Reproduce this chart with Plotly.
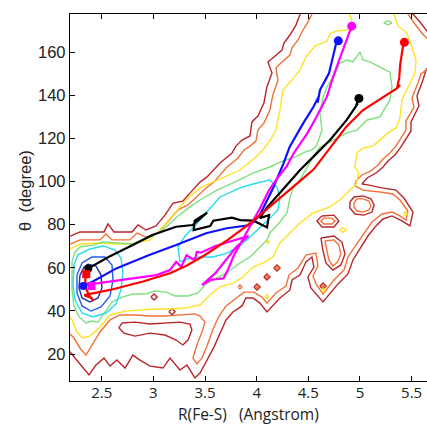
import plotly.graph_objects as go

# ---------------- axes ----------------
x_range = [2.1925, 5.649]
y_range = [7.49, 177.63]
x_ticks = [2.5, 3, 3.5, 4, 4.5, 5, 5.5]
x_ticklabels = ["2.5", "3", "3.5", "4", "4.5", "5", "5.5"]
y_ticks = [20, 40, 60, 80, 100, 120, 140, 160]
x_title = "R(Fe-S)   (Angstrom)"
y_title = "\u03b8  (degree)"

# ---------------- contour level 1 (dark red) ----------------
lv1_upper = [(2.154,73.8),(2.193,74.7),(2.289,76.6),(2.522,76.6),(2.560,80.3),(2.618,76.6),(2.793,76.6),(2.851,79.8),(2.928,77.5),(3.025,79.4),(3.112,84.4),(3.190,90.0),(3.286,90.9),(3.354,94.6),(3.451,99.7),(3.519,102.1),(3.645,108.6),(3.761,113.2),(3.799,116.4),(3.858,119.2),(3.935,121.1),(3.954,127.6),(4.012,130.3),(4.070,136.4),(4.099,143.8),(4.148,150.3),(4.109,155.4),(4.167,157.7),(4.245,160.9),(4.264,164.2),(4.322,167.9),(4.380,172.5),(4.419,177.6),(4.458,182.3)]
lv1_topright = [(5.484,182.3),(5.513,177.6),(5.581,173.9),(5.639,170.2),(5.716,165.6)]
lv1_right = [(5.716,156.3),(5.639,151.7),(5.610,147.0),(5.581,143.3),(5.552,139.6),(5.571,135.0),(5.523,130.8),(5.494,127.6),(5.494,123.4),(5.445,119.7),(5.397,116.0),(5.339,112.3),(5.271,109.5),(5.223,106.7),(5.155,103.9),(5.068,101.6),(5.019,98.8),(5.077,98.4),(5.213,97.0),(5.348,96.0),(5.426,92.3),(5.513,85.8),(5.484,79.4),(5.406,81.7),(5.310,84.0),(5.223,82.6),(5.155,79.4),(5.077,74.7),(5.000,69.1),(4.932,63.6),(4.884,57.1),(4.787,52.5),(4.642,44.1),(4.525,50.6),(4.496,55.7),(4.554,60.3),(4.535,65.0),(4.477,62.7),(4.419,56.6),(4.342,54.3),(4.322,49.7),(4.225,46.0),(4.099,39.5),(4.032,43.6),(3.964,46.0),(3.896,46.0),(3.858,42.3),(3.770,39.5),(3.703,35.8),(3.645,29.7),(3.586,23.2),(3.519,17.2),(3.451,11.2),(3.402,8.9),(3.325,14.9),(3.257,12.6),(3.161,18.1),(3.093,13.5),(2.967,14.4),(2.870,17.2),(2.802,19.5),(2.725,13.5),(2.647,17.2),(2.580,14.4),(2.522,18.1),(2.444,14.9),(2.376,10.3),(2.289,15.4),(2.193,20.9),(2.154,23.7)]
lv1_hole_low = [(2.696,34.4),(2.822,34.8),(2.967,33.9),(3.112,34.4),(3.257,34.8),(3.354,33.9),(3.373,31.1),(3.335,26.5),(3.286,24.2),(3.219,26.5),(3.112,28.8),(2.967,29.7),(2.822,28.3),(2.715,29.7),(2.667,32.1),(2.696,34.4)]
lv1_hole_a = [(4.903,90.5),(4.942,92.8),(5.029,93.3),(5.106,91.9),(5.136,89.1),(5.116,85.8),(5.039,84.4),(4.951,84.9),(4.903,87.7),(4.903,90.5)]
lv1_loop_b = [(4.622,73.8),(4.748,74.7),(4.825,71.9),(4.855,66.4),(4.815,61.3),(4.738,58.9),(4.670,62.2),(4.641,68.2),(4.622,73.8)]
lv1_hex_c = [(4.632,84.0),(4.748,84.4),(4.796,81.7),(4.748,78.9),(4.632,78.9),(4.583,81.7),(4.632,84.0)]
lv1_isl_1 = [(4.166,59.9),(4.196,61.3),(4.226,59.9),(4.196,58.5),(4.166,59.9)]
lv1_isl_2 = [(4.069,55.7),(4.099,57.1),(4.129,55.7),(4.099,54.3),(4.069,55.7)]
lv1_isl_3 = [(3.973,51.1),(4.003,52.5),(4.033,51.1),(4.003,49.7),(3.973,51.1)]
lv1_isl_4 = [(4.612,51.5),(4.642,52.9),(4.672,51.5),(4.642,50.1),(4.612,51.5)]
lv1_isl_5 = [(2.976,46.4),(3.006,47.8),(3.036,46.4),(3.006,45.0),(2.976,46.4)]
lv1_isl_6 = [(3.150,39.6),(3.180,41.0),(3.210,39.6),(3.180,38.2),(3.150,39.6)]

# ---------------- contour level 2 (orange) ----------------
lv2_upper = [(2.154,70.1),(2.193,71.0),(2.289,72.9),(2.483,72.9),(2.541,75.6),(2.599,72.9),(2.773,72.9),(2.841,76.1),(2.928,74.2),(3.044,76.1),(3.141,81.2),(3.238,86.8),(3.335,89.1),(3.412,92.8),(3.499,96.5),(3.586,99.7),(3.703,106.2),(3.819,110.9),(3.877,114.6),(3.935,116.4),(3.993,118.7),(4.012,123.8),(4.070,127.1),(4.128,133.1),(4.157,140.1),(4.206,147.0),(4.186,152.6),(4.245,155.4),(4.322,158.6),(4.342,161.9),(4.400,165.6),(4.448,170.2),(4.496,173.9),(4.535,177.6),(4.574,182.3)]
lv2_topright = [(5.435,182.3),(5.464,177.6),(5.532,173.0),(5.590,169.3),(5.716,162.8)]
lv2_right = [(5.716,154.4),(5.590,149.8),(5.561,145.6),(5.532,141.9),(5.503,138.7),(5.523,134.5),(5.474,130.8),(5.445,128.0),(5.445,123.8),(5.397,120.1),(5.348,116.4),(5.290,113.2),(5.223,110.4),(5.174,107.6),(5.106,104.9),(5.019,103.0),(4.961,100.2),(4.951,97.9),(5.029,96.0),(5.194,95.1),(5.319,94.2),(5.387,91.4),(5.464,86.3),(5.445,82.1),(5.387,84.0),(5.310,85.8),(5.213,84.9),(5.116,81.2),(5.039,76.1),(4.961,70.5),(4.884,65.0),(4.845,58.9),(4.748,54.3),(4.642,47.8),(4.574,52.5),(4.545,56.2),(4.593,60.8),(4.574,66.8),(4.477,65.9),(4.400,59.9),(4.313,56.6),(4.283,51.5),(4.186,48.3),(4.099,43.6),(4.051,46.4),(3.974,48.7),(3.877,48.7),(3.799,46.0),(3.703,42.3),(3.625,36.7),(3.567,30.2),(3.519,23.7),(3.470,18.1),(3.421,15.4),(3.383,18.1),(3.421,24.2),(3.470,30.2),(3.499,34.8),(3.451,37.6),(3.402,38.6),(3.257,38.1),(3.112,37.6),(2.967,37.6),(2.822,38.1),(2.676,38.1),(2.580,35.8),(2.483,30.2),(2.405,24.2),(2.347,19.5),(2.289,22.8),(2.231,27.4),(2.154,31.1)]
lv2_hole_a = [(4.942,90.0),(4.971,91.9),(5.029,91.9),(5.087,90.9),(5.106,88.6),(5.087,86.8),(5.029,85.8),(4.971,86.3),(4.942,88.2),(4.942,90.0)]
lv2_loop_b = [(4.660,72.4),(4.748,72.9),(4.796,70.5),(4.815,66.4),(4.786,62.7),(4.738,60.8),(4.699,63.6),(4.680,68.2),(4.660,72.4)]
lv2_hex_c = [(4.651,83.0),(4.729,83.0),(4.758,81.7),(4.729,80.3),(4.651,80.3),(4.622,81.7),(4.651,83.0)]
lv2_isl_1 = [(4.181,59.9),(4.196,60.6),(4.211,59.9),(4.196,59.2),(4.181,59.9)]
lv2_isl_2 = [(4.084,55.7),(4.099,56.4),(4.114,55.7),(4.099,55.0),(4.084,55.7)]
lv2_isl_3 = [(3.988,51.1),(4.003,51.8),(4.018,51.1),(4.003,50.4),(3.988,51.1)]
lv2_isl_4 = [(4.627,51.5),(4.642,52.2),(4.657,51.5),(4.642,50.8),(4.627,51.5)]
lv2_tiny = [(3.82,51.1),(3.838,52.0),(3.856,51.1),(3.838,50.2),(3.82,51.1)]

# ---------------- contour level 3 (yellow) ----------------
lv3_upper = [(2.154,67.8),(2.193,68.7),(2.289,71.0),(2.483,71.5),(2.628,71.0),(2.773,71.0),(2.967,72.9),(3.064,77.5),(3.209,85.8),(3.325,91.9),(3.451,97.0),(3.645,101.1),(3.838,105.3),(3.983,110.9),(4.061,114.6),(4.128,118.8),(4.186,123.8),(4.225,133.1),(4.254,142.4),(4.342,147.0),(4.419,151.7),(4.477,157.7),(4.564,162.8),(4.680,165.1),(4.709,168.4),(4.767,169.7),(4.874,170.2),(4.922,173.5),(4.903,177.6),(4.903,182.3)]
lv3_right = [(5.310,182.3),(5.329,177.6),(5.368,172.1),(5.455,168.8),(5.503,162.3),(5.542,156.3),(5.532,150.3),(5.484,145.6),(5.445,142.4),(5.406,137.8),(5.387,129.4),(5.348,124.8),(5.271,122.5),(5.194,119.2),(5.126,116.4),(5.029,115.5),(4.971,113.2),(4.951,106.7),(4.990,103.9),(4.961,98.4),(4.903,96.0),(4.806,91.4),(4.709,88.2),(4.545,85.4),(4.419,80.7),(4.322,76.1),(4.225,71.5),(4.157,65.0),(4.061,62.2),(3.964,60.3),(3.867,55.7),(3.770,52.9),(3.645,51.1),(3.548,47.4),(3.451,42.7),(3.306,41.3),(3.161,40.9),(3.015,40.9),(2.870,40.4),(2.725,39.9),(2.580,38.1),(2.483,32.5),(2.386,28.3),(2.309,27.4),(2.260,30.2),(2.212,35.8),(2.154,39.5)]
lv3_tiny_1 = [(4.80,77.5),(4.835,78.6),(4.87,77.5),(4.835,76.4),(4.80,77.5)]
lv3_tiny_2 = [(4.082,46.5),(4.099,47.4),(4.116,46.5),(4.099,45.6),(4.082,46.5)]
lv3_tiny_3 = [(4.625,49.5),(4.642,50.4),(4.659,49.5),(4.642,48.6),(4.625,49.5)]
lv3_tiny_4 = [(5.423,85.0),(5.44,85.9),(5.457,85.0),(5.44,84.1),(5.423,85.0)]
lv3_tiny_5 = [(4.095,71.9),(4.109,72.6),(4.123,71.9),(4.109,71.2),(4.095,71.9)]

# ---------------- contour level 4 (green) ----------------
lv4_main = [(2.212,62.7),(2.241,67.3),(2.289,69.6),(2.415,70.5),(2.512,71.9),(2.667,71.5),(2.802,71.0),(2.899,72.9),(2.996,74.7),(3.112,78.4),(3.238,84.0),(3.354,88.2),(3.451,91.4),(3.616,96.0),(3.770,99.3),(3.964,103.9),(4.128,106.7),(4.254,109.5),(4.371,111.3),(4.467,113.6),(4.535,114.6),(4.583,116.9),(4.632,123.8),(4.613,131.7),(4.642,139.1),(4.680,143.8),(4.738,148.4),(4.806,154.9),(4.874,156.3),(4.932,155.4),(5.000,160.0),(5.029,156.3),(5.097,155.4),(5.194,153.0),(5.290,150.7),(5.310,143.8),(5.290,137.8),(5.194,129.9),(5.068,128.5),(4.971,123.8),(4.874,122.5),(4.709,118.3),(4.613,116.0),(4.545,111.3),(4.477,105.3),(4.419,100.7),(4.351,97.0),(4.322,92.3),(4.293,85.4),(4.225,81.2),(4.128,76.1),(4.099,72.9),(4.032,69.6),(3.935,65.0),(3.838,62.2),(3.770,59.9),(3.693,57.1),(3.596,54.8),(3.499,52.0),(3.431,48.3),(3.335,46.9),(3.209,46.9),(3.122,48.7),(3.015,49.2),(2.919,47.8),(2.802,47.8),(2.696,46.4),(2.599,44.1),(2.522,38.6),(2.463,34.8),(2.405,35.3),(2.347,34.4),(2.280,37.2),(2.231,42.3),(2.212,49.7),(2.212,62.7)]
lv4_tiny_top = [(5.23,173.5),(5.271,174.5),(5.31,173.5),(5.271,172.6),(5.23,173.5)]

# ---------------- contour level 5 (cyan) ----------------
lv5_peak = [(2.386,68.7),(2.512,70.1),(2.628,68.2),(2.686,64.5),(2.705,58.0),(2.686,49.7),(2.638,43.2),(2.541,39.0),(2.415,37.2),(2.309,39.0),(2.241,45.0),(2.222,52.0),(2.231,61.3),(2.270,66.0),(2.386,68.7)]
lv5_band = [(3.257,62.7),(3.238,69.6),(3.306,74.7),(3.402,79.4),(3.499,84.9),(3.645,92.8),(3.838,97.0),(3.964,98.8),(4.128,100.7),(4.196,97.4),(4.225,92.8),(4.206,86.8),(4.128,83.0),(4.051,79.4),(3.935,74.2),(3.838,70.1),(3.712,66.8),(3.577,65.0),(3.451,65.0),(3.325,64.0),(3.257,62.7)]

# ---------------- contour level 6 (blue) / 7 (navy) ----------------
lv6_peak = [(2.405,65.0),(2.531,65.0),(2.599,61.3),(2.609,54.3),(2.580,46.9),(2.493,41.8),(2.396,39.9),(2.309,42.3),(2.260,48.3),(2.260,56.6),(2.309,62.2),(2.405,65.0)]
lv7_peak = [(2.367,61.7),(2.444,60.8),(2.493,56.6),(2.502,50.6),(2.463,46.0),(2.386,44.1),(2.309,46.0),(2.280,50.6),(2.289,56.6),(2.328,60.3),(2.367,61.7)]

# ---------------- trajectories ----------------
black_x = [2.37, 2.57, 2.80, 2.99, 3.22, 3.38, 3.52, 3.40, 3.39, 3.55, 3.58, 3.76, 3.84, 3.97, 4.10, 4.12, 4.03, 4.10, 4.23, 4.42, 4.55, 4.71, 4.87, 4.95, 4.98, 4.96, 4.99]
black_y = [59.7, 65.1, 70.5, 75.2, 79.0, 79.8, 85.5, 81.8, 77.5, 79.3, 81.8, 83.2, 82.1, 81.8, 78.7, 84.4, 83.0, 88.0, 95.0, 105.3, 111.5, 119.2, 128.4, 133.9, 136.2, 135.0, 138.5]
blue_x = [2.32, 2.41, 2.64, 2.96, 3.22, 3.51, 3.71, 3.94, 4.03, 4.15, 4.26, 4.32, 4.45, 4.55, 4.60, 4.59, 4.613, 4.70, 4.748, 4.777, 4.79]
blue_y = [51.5, 53.5, 59.7, 65.9, 70.5, 76.0, 78.3, 79.8, 84.4, 96.0, 108.4, 116.1, 126.9, 134.6, 139.3, 136.5, 142.4, 150.1, 159.4, 165.6, 165.2]
magenta_x = [2.40, 2.42, 2.80, 3.03, 3.16, 3.22, 3.27, 3.32, 3.40, 3.42, 3.46, 3.60, 3.76, 3.92, 3.80, 3.60, 3.47, 3.55, 3.68, 3.72, 3.78, 3.88, 4.04, 4.12, 4.20, 4.29, 4.36, 4.49, 4.58, 4.68, 4.74, 4.81, 4.87, 4.92]
magenta_y = [51.5, 52.5, 55.1, 56.6, 58.9, 62.7, 60.4, 65.8, 63.5, 67.3, 67.0, 70.1, 72.4, 74.7, 69.5, 57.5, 52.0, 54.3, 55.1, 58.9, 65.8, 74.3, 88.3, 96.0, 101.5, 107.0, 113.2, 122.3, 130.0, 139.3, 148.4, 157.8, 165.6, 172.0]
red_x = [2.35, 2.34, 2.35, 2.38, 2.42, 2.40, 2.33, 2.58, 2.90, 3.16, 3.32, 3.50, 3.72, 3.90, 4.03, 4.23, 4.39, 4.55, 4.71, 4.87, 5.03, 5.19, 5.36, 5.39, 5.36, 5.38, 5.39, 5.42, 5.43]
red_y = [57.0, 54.0, 50.0, 47.0, 44.5, 46.0, 47.3, 49.7, 53.6, 57.4, 60.9, 65.9, 72.9, 79.3, 84.4, 92.3, 99.0, 105.5, 115.5, 125.5, 133.1, 138.2, 143.3, 144.7, 143.6, 148.0, 154.4, 163.7, 164.5]

start_x = [2.37, 2.35, 2.32, 2.40]
start_y = [59.7, 57.0, 51.5, 51.5]
start_colors = ["#000000", "#FF0000", "#1010FF", "#FF00FF"]
start_symbols = ["circle", "square", "circle", "square"]
end_x = [4.99, 4.79, 4.92, 5.43]
end_y = [138.5, 165.2, 172.0, 164.5]
end_colors = ["#000000", "#1010FF", "#FF00FF", "#FF0000"]

# ---------------- styles ----------------
C_DARKRED = "#B8262B"
C_ORANGE = "#F2713A"
C_YELLOW = "#FFE225"
C_GREEN = "#7FDF7F"
C_CYAN = "#22DDEE"
C_BLUE = "#2258EE"
C_NAVY = "#1A2CA8"

fig = go.Figure()


def add_segments(segs, color, width=1.4):
    xs, ys = [], []
    for s in segs:
        for p in s:
            xs.append(p[0])
            ys.append(p[1])
        xs.append(None)
        ys.append(None)
    fig.add_trace(go.Scatter(x=xs, y=ys, mode="lines", line=dict(color=color, width=width),
                             hoverinfo="skip", showlegend=False))


add_segments([lv1_upper, lv1_topright, lv1_right, lv1_hole_low, lv1_hole_a, lv1_loop_b, lv1_hex_c,
              lv1_isl_1, lv1_isl_2, lv1_isl_3, lv1_isl_4, lv1_isl_5, lv1_isl_6], C_DARKRED)
add_segments([lv2_upper, lv2_topright, lv2_right, lv2_hole_a, lv2_loop_b, lv2_hex_c,
              lv2_isl_1, lv2_isl_2, lv2_isl_3, lv2_isl_4, lv2_tiny], C_ORANGE)
add_segments([lv3_upper, lv3_right, lv3_tiny_1, lv3_tiny_2, lv3_tiny_3, lv3_tiny_4, lv3_tiny_5], C_YELLOW)
add_segments([lv4_main, lv4_tiny_top], C_GREEN)
add_segments([lv5_peak, lv5_band], C_CYAN)
add_segments([lv6_peak], C_BLUE)
add_segments([lv7_peak], C_NAVY)

for xs, ys, col in [(black_x, black_y, "#000000"), (blue_x, blue_y, "#1010FF"),
                    (magenta_x, magenta_y, "#FF00FF"), (red_x, red_y, "#FF0000")]:
    fig.add_trace(go.Scatter(x=xs, y=ys, mode="lines", line=dict(color=col, width=2.2),
                             hoverinfo="skip", showlegend=False))

fig.add_trace(go.Scatter(x=start_x, y=start_y, mode="markers",
                         marker=dict(color=start_colors, symbol=start_symbols, size=8, line=dict(width=0)),
                         hoverinfo="skip", showlegend=False))
fig.add_trace(go.Scatter(x=end_x, y=end_y, mode="markers",
                         marker=dict(color=end_colors, size=9, line=dict(width=0)),
                         hoverinfo="skip", showlegend=False))

fig.update_layout(
    width=427, height=425,
    margin=dict(l=70, r=0, t=14, b=44),
    paper_bgcolor="white", plot_bgcolor="white",
    showlegend=False,
    annotations=[
        dict(text=x_title, xref="paper", yref="paper", x=0.5, y=-0.09,
             xanchor="center", yanchor="middle", showarrow=False,
             font=dict(family="Open Sans", size=15.5, color="#222222")),
        dict(text=y_title, xref="paper", yref="paper", x=-0.126, y=0.518,
             xanchor="center", yanchor="middle", showarrow=False, textangle=-90,
             font=dict(family="Liberation Sans", size=16.5, color="#222222")),
    ],
)
fig.update_xaxes(range=x_range, tickvals=x_ticks, ticktext=x_ticklabels,
                 ticks="inside", ticklen=5, tickwidth=1, tickcolor="black",
                 showline=True, linecolor="black", linewidth=1.3, mirror="ticks",
                 showgrid=False, zeroline=False, ticklabelstandoff=-2,
                 tickfont=dict(family="Open Sans", size=15, color="#222222"))
fig.update_yaxes(range=y_range, tickvals=y_ticks,
                 ticks="inside", ticklen=5, tickwidth=1, tickcolor="black",
                 showline=True, linecolor="black", linewidth=1.3, mirror=False,
                 showgrid=False, zeroline=False,
                 tickfont=dict(family="Liberation Sans", size=16.5, color="#222222"))

fig.write_html("out.html")
